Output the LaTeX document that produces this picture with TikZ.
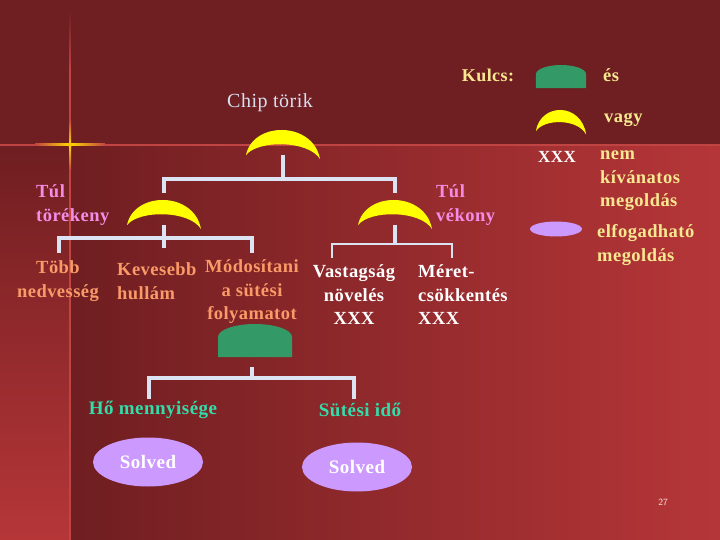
\documentclass[tikz,border=0pt]{standalone}
\usepackage{fontspec}
\setmainfont{Liberation Serif}[LetterSpace=2.5]
\usetikzlibrary{shapes.geometric}
\definecolor{bgdark}{HTML}{6F1E21}
\definecolor{bglight}{HTML}{B63638}
\definecolor{redline}{HTML}{C04442}
\definecolor{cyel}{HTML}{FFFF00}
\definecolor{cgreen}{HTML}{339966}
\definecolor{clav}{HTML}{CC99FF}
\definecolor{cconn}{HTML}{DCE4F4}
\definecolor{cpale}{HTML}{F8E890}
\definecolor{cchip}{HTML}{D8E0F0}
\definecolor{cpink}{HTML}{F48CE6}
\definecolor{corange}{HTML}{FA9A68}
\definecolor{cteal}{HTML}{33DDAA}
\tikzset{
  crescent/.pic={
    \fill[cyel] (-37,25) .. controls (-30,-9) and (30,-9) .. (37,29)
                .. controls (25,10) and (-25,10) .. (-37,25) -- cycle;
    \coordinate (-top) at (0,-7);
    \coordinate (-down) at (0,25);
  },
  dome/.pic={
    \fill[cgreen] (-37,33) -- (-37,13) .. controls (-37,5.8) and (-20.4,0) .. (0,0)
                  .. controls (20.4,0) and (37,5.8) .. (37,13) -- (37,33) -- cycle;
    \coordinate (-bot) at (0,33);
  },
  txt/.style={font=\fontsize{18.5}{23.5}\selectfont\bfseries, inner sep=0pt},
  conn/.style={draw=cconn, line width=3.5pt, line join=miter},
  solvedell/.style={ellipse, fill=clav, inner sep=0pt, minimum width=110pt, minimum height=49pt,
    text=white, font=\fontsize{19}{22}\selectfont\bfseries},
}
\begin{document}
\begin{tikzpicture}[x=1pt,y=-1pt]
\useasboundingbox (0,0) rectangle (720,540);
% background
\fill[bgdark] (0,0) rectangle (720,540);
\shade[left color=bgdark, right color=bglight] (70,145) rectangle (720,540);
\shade[top color=bgdark, bottom color=bglight] (0,145) rectangle (70,540);
\fill[redline] (0,144) rectangle (720,146);
\shade[top color=bgdark, bottom color=redline] (69.2,10) rectangle (70.8,70);
\fill[redline] (69.2,70) rectangle (70.8,540);
\shade[left color=redline, right color=redline, middle color=yellow!70!orange] (35,144) rectangle (105,146);
\shade[top color=redline, bottom color=redline, middle color=yellow!70!orange] (69,120) rectangle (71,170);
\fill[yellow!60!orange] (70,145) circle (2);

% legend
\node[txt, text=cpale, font=\fontsize{18}{22}\selectfont\bfseries] (kulcs) at (488,75) {Kulcs:};
\pic[xscale=0.676, yscale=0.7] (lgdome) at (561,65) {dome};
\node[txt, text=cpale, anchor=west] (es) at (603,75) {és};
\pic[xscale=0.68, yscale=0.85] (lgcres) at (561,110) {crescent};
\node[txt, text=cpale, anchor=west] (vagy) at (604,120) {vagy};
\node[txt, text=white, font=\fontsize{17}{22}\selectfont\bfseries] (lgx) at (557,157) {XXX};
\node[txt, text=cpale, anchor=west, align=left] (nemk) at (600,181) {nem\\kívánatos\\megoldás};
\node[ellipse, fill=clav, inner sep=0pt, minimum width=52pt, minimum height=15pt] (lgell) at (556,229) {};
\node[txt, text=cpale, anchor=west, align=left] (elf) at (597,245) {elfogadható\\megoldás};

% tree
\node[font=\fontsize{20}{22}\selectfont, text=cchip, inner sep=0pt] (chip) at (270,103) {Chip törik};
\pic (c0) at (283,130) {crescent};
\pic (c1) at (164,200) {crescent};
\pic (c2) at (395,200) {crescent};
\node[txt, text=cpink, anchor=west, align=left] (tultor) at (36,205) {Túl\\törékeny};
\node[txt, text=cpink, anchor=west, align=left] (tulvek) at (436,205) {Túl\\vékony};

\coordinate (j0) at (286,179);
\draw[conn] (c0-down) -- (c0-down |- j0);
\draw[conn] (c1-top) |- (j0) -| (c2-top);

\node[txt, text=corange, align=center] (tobb) at (58,281) {Több\\nedvesség};
\node[txt, text=corange, anchor=west, align=left] (kev) at (117,281) {Kevesebb\\hullám};
\node[txt, text=corange, align=center] (mod) at (252,292) {Módosítani\\a sütési\\folyamatot};
\node[txt, text=white, align=center] (vas) at (354,295) {Vastagság\\növelés\\XXX};
\node[txt, text=white, anchor=west, align=left] (mer) at (418,295) {Méret-\\csökkentés\\XXX};

\coordinate (j1) at (164,238);
\coordinate (j1b) at (164,248);
\coordinate (tobbtop) at (59,253);
\coordinate (modtop) at (252,253);
\draw[conn] (c1-down) -- (j1b);
\draw[conn] (tobbtop) |- (j1) -| (modtop);

\coordinate (j2) at (395,244);
\coordinate (vastop) at (332,258);
\coordinate (mertop) at (452,258);
\draw[conn] (c2-down) -- (j2);
\draw[conn, line width=2.5pt] (vastop) |- (j2) -| (mertop);

\pic (d0) at (255,324) {dome};
\coordinate (d0s) at (252,367);
\coordinate (j3) at (252,378);
\coordinate (hotop) at (149,399);
\coordinate (suttop) at (354,399);
\draw[conn] (d0s) -- (j3);
\draw[conn] (hotop) |- (j3) -| (suttop);

\node[txt, text=cteal, font=\fontsize{19}{22}\selectfont\bfseries] (ho) at (153,410) {Hő mennyisége};
\node[txt, text=cteal, font=\fontsize{19}{22}\selectfont\bfseries] (sut) at (360,410) {Sütési idő};
\node[solvedell] (s1) at (148,462) {Solved};
\node[solvedell] (s2) at (357,467) {Solved};

\node[font=\sffamily\fontsize{9.5}{11}\selectfont, text=white!90!red, inner sep=0pt] (pg) at (663,502) {27};
\end{tikzpicture}
\end{document}
